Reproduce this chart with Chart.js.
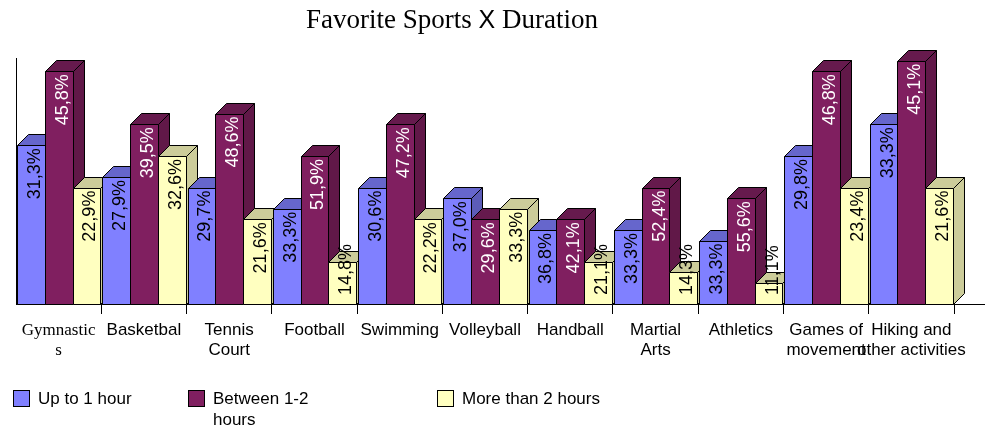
<!DOCTYPE html>
<html>
<head>
<meta charset="utf-8">
<title>Favorite Sports X Duration</title>
<script src="https://cdn.jsdelivr.net/npm/chart.js@4.4.0/dist/chart.umd.min.js"></script>
<style>
  html, body { margin: 0; padding: 0; background: #fff; }
  canvas { display: block; }
</style>
</head>
<body>
<canvas id="sportsChart" width="996" height="428"></canvas>
<script>
const sports = [["Gymnastic", "s"], "Basketbal", ["Tennis", "Court"], "Football", "Swimming", "Volleyball",
  "Handball", ["Martial", "Arts"], "Athletics", ["Games of", "movement"], ["Hiking and", "other activities"]];

const seriesNames = ["Up to 1 hour", "Between 1-2\nhours", "More than 2 hours"];

// number of answers per sport (bar heights)
const upToOneHour = [15, 12, 11, 9, 11, 10, 7, 7, 6, 14, 17];
const oneToTwoHours = [22, 17, 18, 14, 17, 8, 8, 11, 10, 22, 23];
const moreThanTwoHours = [11, 14, 8, 4, 8, 9, 4, 3, 2, 11, 11];

// percentages written on the bars
const upToOneHourPct = ["31,3%", "27,9%", "29,7%", "33,3%", "30,6%", "37,0%", "36,8%", "33,3%", "33,3%", "29,8%", "33,3%"];
const oneToTwoHoursPct = ["45,8%", "39,5%", "48,6%", "51,9%", "47,2%", "29,6%", "42,1%", "52,4%", "55,6%", "46,8%", "45,1%"];
const moreThanTwoHoursPct = ["22,9%", "32,6%", "21,6%", "14,8%", "22,2%", "33,3%", "21,1%", "14,3%", "11,1%", "23,4%", "21,6%"];

const DEPTH = 11;
const SANS = "'Liberation Sans', Arial, sans-serif";
const SERIF = "'Liberation Serif', 'Times New Roman', serif";

function face(ctx, pts, fill) {
  ctx.beginPath();
  ctx.moveTo(pts[0][0], pts[0][1]);
  for (let k = 1; k < pts.length; k++) ctx.lineTo(pts[k][0], pts[k][1]);
  ctx.closePath();
  ctx.fillStyle = fill;
  ctx.fill();
  ctx.stroke();
}

// draws the bars as 3D boxes, left to right so the front faces hide the sides
const bars3d = {
  id: "bars3d",
  beforeDatasetsDraw(chart) {
    const ctx = chart.ctx;
    const area = chart.chartArea;
    ctx.save();
    ctx.lineWidth = 1;
    ctx.strokeStyle = "#000";

    // left wall edge and floor extension
    const lx = Math.round(area.left) + 0.5;
    const by = Math.round(area.bottom) + 0.5;
    ctx.beginPath();
    ctx.moveTo(lx, area.top);
    ctx.lineTo(lx, by);
    ctx.moveTo(area.right, by);
    ctx.lineTo(area.right + 31, by);
    ctx.stroke();

    const n = chart.data.labels.length;
    for (let j = 0; j < n; j++) {
      chart.data.datasets.forEach((ds, i) => {
        const bar = chart.getDatasetMeta(i).data[j];
        const left = Math.round(bar.x - bar.width / 2) + 0.5;
        const right = Math.round(bar.x + bar.width / 2) + 0.5;
        const top = Math.round(bar.y) + 0.5;
        const bottom = Math.round(bar.base) + 0.5;
        face(ctx, [[right, bottom], [right + DEPTH, bottom - DEPTH], [right + DEPTH, top - DEPTH], [right, top]], ds.sideColor);
        face(ctx, [[left, top], [left + DEPTH, top - DEPTH], [right + DEPTH, top - DEPTH], [right, top]], ds.topColor);
        face(ctx, [[left, top], [right, top], [right, bottom], [left, bottom]], ds.backgroundColor);
      });
    }

    // percentage labels, kept above the floor on short bars
    ctx.font = "18px " + SANS;
    ctx.textAlign = "right";
    ctx.textBaseline = "middle";
    chart.data.datasets.forEach((ds, i) => {
      chart.getDatasetMeta(i).data.forEach((bar, j) => {
        const tw = ctx.measureText(ds.pct[j]).width;
        const endY = Math.min(bar.y + 3, bar.base - 9 - tw);
        ctx.save();
        ctx.translate(bar.x + 4, endY);
        ctx.rotate(-Math.PI / 2);
        ctx.fillStyle = ds.labelColor;
        ctx.fillText(ds.pct[j], 0, 0);
        ctx.restore();
      });
    });
    ctx.restore();
    return false;
  },
  afterDraw(chart) {
    const ctx = chart.ctx;
    ctx.save();

    // title, with the sans-serif X
    const parts = [["Favorite Sports ", "27px " + SERIF], ["X", "25px " + SANS], [" Duration", "27px " + SERIF]];
    let w = 0;
    parts.forEach(p => { ctx.font = p[1]; w += ctx.measureText(p[0]).width; });
    let x = 452 - w / 2;
    ctx.fillStyle = "#000";
    ctx.textAlign = "left";
    ctx.textBaseline = "alphabetic";
    parts.forEach(p => {
      ctx.font = p[1];
      ctx.fillText(p[0], x, 28);
      x += ctx.measureText(p[0]).width;
    });

    // legend
    const legendX = [13, 188, 437];
    ctx.font = "17px " + SANS;
    ctx.textBaseline = "middle";
    ctx.lineWidth = 1;
    ctx.strokeStyle = "#000";
    chart.data.datasets.forEach((ds, i) => {
      const sx = legendX[i];
      ctx.fillStyle = ds.backgroundColor;
      ctx.fillRect(sx + 0.5, 390.5, 16, 16);
      ctx.strokeRect(sx + 0.5, 390.5, 16, 16);
      ctx.fillStyle = "#000";
      ds.label.split("\n").forEach((line, k) => {
        ctx.fillText(line, sx + 25, 399 + k * 21);
      });
    });
    ctx.restore();
  }
};

new Chart(document.getElementById("sportsChart"), {
  type: "bar",
  data: {
    labels: sports,
    datasets: [
      {
        label: seriesNames[0],
        data: upToOneHour,
        pct: upToOneHourPct,
        backgroundColor: "#8080FF",
        topColor: "#6666CC",
        sideColor: "#5C5CB8",
        labelColor: "#000"
      },
      {
        label: seriesNames[1],
        data: oneToTwoHours,
        pct: oneToTwoHoursPct,
        backgroundColor: "#801F60",
        topColor: "#661A4D",
        sideColor: "#611848",
        labelColor: "#fff"
      },
      {
        label: seriesNames[2],
        data: moreThanTwoHours,
        pct: moreThanTwoHoursPct,
        backgroundColor: "#FFFFC0",
        topColor: "#CCCC9A",
        sideColor: "#CCCC9A",
        labelColor: "#000"
      }
    ]
  },
  options: {
    responsive: false,
    animation: false,
    layout: { padding: { top: 58, left: 16, right: 42, bottom: 64 } },
    datasets: {
      bar: { barPercentage: 1, categoryPercentage: 0.977 }
    },
    plugins: {
      legend: { display: false },
      title: { display: false },
      tooltip: { enabled: false }
    },
    scales: {
      x: {
        offset: true,
        afterFit(scale) { scale.height = 60; },
        grid: {
          offset: true,
          drawOnChartArea: false,
          tickLength: 10,
          color: (c) => (c.index === 0 ? "rgba(0,0,0,0)" : "#000")
        },
        border: { display: true, color: "#000" },
        ticks: {
          autoSkip: false,
          maxRotation: 0,
          padding: 6,
          color: "#000",
          font: (c) => ({ family: c.index === 0 ? SERIF : SANS, size: 17, lineHeight: 1.2 })
        }
      },
      y: {
        display: false,
        min: 0,
        max: 23.25
      }
    }
  },
  plugins: [bars3d]
});
</script>
</body>
</html>
